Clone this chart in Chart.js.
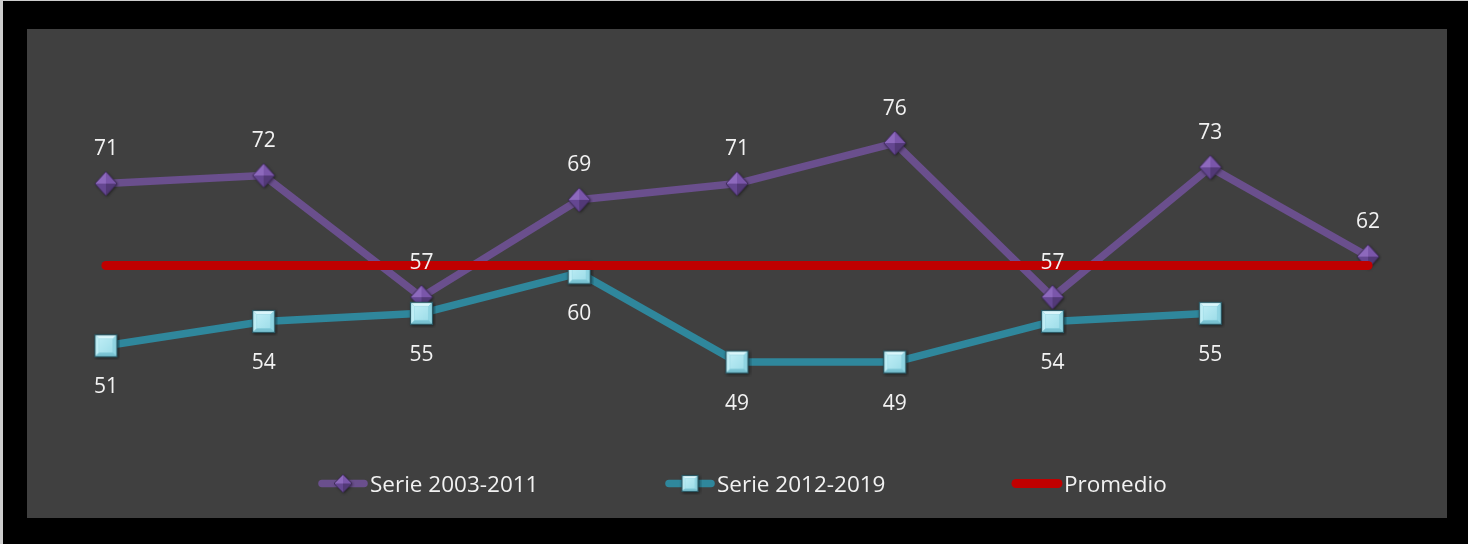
<!DOCTYPE html>
<html>
<head>
<meta charset="utf-8">
<script src="https://cdn.jsdelivr.net/npm/chart.js@4.4.0/dist/chart.umd.min.js"></script>
<style>
html, body { margin: 0; padding: 0; width: 1468px; height: 544px; overflow: hidden; background: #cdcdcd; }
#frame { position: absolute; left: 3px; top: 1px; width: 1465px; height: 543px; background: #000; }
#plot { position: absolute; left: 27px; top: 29px; width: 1420px; height: 489px; background: #404040; }
</style>
</head>
<body>
<div id="frame"></div>
<div id="plot"><canvas id="grafico" width="1420" height="489"></canvas></div>
<script>
// values
const categorias = ["1", "2", "3", "4", "5", "6", "7", "8", "9"];
const serie1 = [71, 72, 57, 69, 71, 76, 57, 73, 62];      // Serie 2003-2011
const serie2 = [51, 54, 55, 60, 49, 49, 54, 55, null];    // Serie 2012-2019
const promedio = [60.9, 60.9, 60.9, 60.9, 60.9, 60.9, 60.9, 60.9, 60.9];
const nombres = ["Serie 2003-2011", "Serie 2012-2019", "Promedio"];

const MORADO = "#6a4f8d";
const TEAL = "#2f879c";
const ROJO = "#c00000";

function poly(g, pts, fill) {
    g.beginPath();
    g.moveTo(pts[0][0], pts[0][1]);
    for (let i = 1; i < pts.length; i++) g.lineTo(pts[i][0], pts[i][1]);
    g.closePath();
    g.fillStyle = fill;
    g.fill();
}

// bevelled diamond like the Excel marker
function makeDiamond(w, h) {
    const c = document.createElement("canvas");
    c.width = w + 6; c.height = h + 6;
    const g = c.getContext("2d");
    const cx = c.width / 2, cy = c.height / 2;
    const T = [cx, cy - h / 2], R = [cx + w / 2, cy], B = [cx, cy + h / 2], L = [cx - w / 2, cy], C = [cx, cy];
    g.save();
    g.shadowColor = "rgba(0,0,0,0.55)"; g.shadowBlur = 3; g.shadowOffsetX = 1; g.shadowOffsetY = 1;
    poly(g, [T, R, B, L], "#5e4386");
    g.restore();
    poly(g, [T, L, C], "#8d69bd");
    poly(g, [T, R, C], "#7a56aa");
    poly(g, [R, B, C], "#523977");
    poly(g, [B, L, C], "#654792");
    g.beginPath();
    g.moveTo(T[0], T[1]); g.lineTo(R[0], R[1]); g.lineTo(B[0], B[1]); g.lineTo(L[0], L[1]); g.closePath();
    g.strokeStyle = "#3f2c5a"; g.lineWidth = 1; g.stroke();
    return c;
}

// bevelled square
function makeSquare(s) {
    const c = document.createElement("canvas");
    c.width = s + 6; c.height = s + 6;
    const g = c.getContext("2d");
    const x0 = 3, y0 = 3, x1 = 3 + s, y1 = 3 + s, k = s * 0.2;
    g.save();
    g.shadowColor = "rgba(0,0,0,0.6)"; g.shadowBlur = 3; g.shadowOffsetX = 1; g.shadowOffsetY = 1;
    g.fillStyle = "#6fc0d0"; g.fillRect(x0, y0, s, s);
    g.restore();
    poly(g, [[x0, y0], [x1, y0], [x1 - k, y0 + k], [x0 + k, y0 + k]], "#d9f6fb");
    poly(g, [[x0, y0], [x0 + k, y0 + k], [x0 + k, y1 - k], [x0, y1]], "#bfeef6");
    poly(g, [[x1, y0], [x1, y1], [x1 - k, y1 - k], [x1 - k, y0 + k]], "#8fd4e2");
    poly(g, [[x0, y1], [x0 + k, y1 - k], [x1 - k, y1 - k], [x1, y1]], "#79c2d2");
    const gr = g.createLinearGradient(x0, y0, x1, y1);
    gr.addColorStop(0, "#c6f1f8");
    gr.addColorStop(1, "#95d9e6");
    g.fillStyle = gr;
    g.fillRect(x0 + k, y0 + k, s - 2 * k, s - 2 * k);
    g.strokeStyle = "#2c5a66"; g.lineWidth = 1.2;
    g.strokeRect(x0 + 0.5, y0 + 0.5, s - 1, s - 1);
    return c;
}

const diamante = makeDiamond(22, 24);
const cuadro = makeSquare(23);
const diamanteChico = makeDiamond(18, 18);
const cuadroChico = makeSquare(17);

// value labels above / below the points
const etiquetas = {
    id: "etiquetas",
    afterDatasetsDraw(chart) {
        const ctx = chart.ctx;
        const offsets = { 0: -28.5, 1: 47.5 };
        ctx.save();
        ctx.font = '21px "Open Sans"';
        ctx.fillStyle = "#f2f2f2";
        ctx.textAlign = "center";
        ctx.textBaseline = "alphabetic";
        chart.data.datasets.forEach((ds, i) => {
            if (!(i in offsets)) return;
            chart.getDatasetMeta(i).data.forEach((pt, j) => {
                const v = ds.data[j];
                if (v == null) return;
                ctx.fillText(String(v), pt.x, pt.y + offsets[i]);
            });
        });
        ctx.restore();
    }
};

// legend drawn like Excel's: line + marker, then text
const leyenda = {
    id: "leyenda",
    afterDraw(chart) {
        const ctx = chart.ctx;
        const y = 454.5;
        const marcas = [diamanteChico, cuadroChico, null];
        const colores = [MORADO, TEAL, ROJO];
        const grosor = [7.5, 7.5, 9];
        ctx.save();
        nombres.forEach((nombre, i) => {
            const x = 291 + i * 347;
            ctx.beginPath();
            ctx.moveTo(x + 4, y);
            ctx.lineTo(x + 46, y);
            ctx.strokeStyle = colores[i];
            ctx.lineWidth = grosor[i];
            ctx.lineCap = "round";
            ctx.stroke();
            if (marcas[i]) {
                ctx.drawImage(marcas[i], x + 25 - marcas[i].width / 2, y - marcas[i].height / 2);
            }
            ctx.font = '22.5px "Open Sans"';
            ctx.fillStyle = "#f2f2f2";
            ctx.textAlign = "left";
            ctx.textBaseline = "alphabetic";
            ctx.fillText(nombre, x + 52, 463);
        });
        ctx.restore();
    }
};

function dibujar() {
    const ctx = document.getElementById("grafico").getContext("2d");
    window.myChart = new Chart(ctx, {
        type: "line",
        data: {
            labels: categorias,
            datasets: [
                {
                    label: nombres[0],
                    data: serie1,
                    borderColor: MORADO,
                    borderWidth: 7.5,
                    pointStyle: diamante,
                    pointRadius: 11,
                    order: 3
                },
                {
                    label: nombres[1],
                    data: serie2,
                    borderColor: TEAL,
                    borderWidth: 7.5,
                    pointStyle: cuadro,
                    pointRadius: 11,
                    order: 2
                },
                {
                    label: nombres[2],
                    data: promedio,
                    borderColor: ROJO,
                    borderWidth: 9,
                    borderCapStyle: "round",
                    pointRadius: 0,
                    order: 1
                }
            ]
        },
        options: {
            responsive: false,
            animation: false,
            events: [],
            layout: { autoPadding: false, padding: { top: 81.6, bottom: 54.6, left: 0, right: 0 } },
            elements: { line: { tension: 0, fill: false, borderJoinStyle: "round" } },
            scales: {
                x: { display: false, offset: true },
                y: { display: false, min: 36.5, max: 80 }
            },
            plugins: {
                legend: { display: false },
                tooltip: { enabled: false }
            }
        },
        plugins: [etiquetas, leyenda]
    });
}

document.fonts.load('22px "Open Sans"').then(dibujar, dibujar);
</script>
</body>
</html>
